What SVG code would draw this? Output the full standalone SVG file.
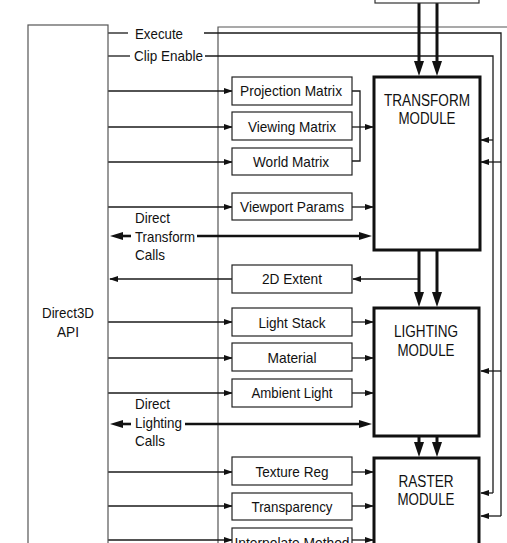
<svg xmlns="http://www.w3.org/2000/svg" width="507" height="543" viewBox="0 0 507 543">
<defs>
<style>
text{font-family:"Liberation Sans",Arial,sans-serif;fill:#111;}
.lbl{font-size:15px;text-anchor:middle;}
.side{font-size:15px;}
.mod{font-size:16px;text-anchor:middle;}
.box{fill:#fff;stroke:#222;stroke-width:1.2;}
.modbox{fill:#fff;stroke:#111;stroke-width:3;}
.thin{fill:none;stroke:#1a1a1a;stroke-width:1.3;}
.gray{fill:none;stroke:#555;stroke-width:1.2;}
.thick{fill:none;stroke:#111;stroke-width:2.6;}
.big{fill:none;stroke:#111;stroke-width:3;}
.ta{marker-end:url(#a);}
</style>
<marker id="a" markerUnits="userSpaceOnUse" markerWidth="9" markerHeight="6" refX="8" refY="3" orient="auto"><path d="M0,0 L9,3 L0,6 z" fill="#111"/></marker>
<marker id="b" markerUnits="userSpaceOnUse" markerWidth="13" markerHeight="8" refX="1" refY="4" orient="auto"><path d="M0,0 L13,4 L0,8 z" fill="#111"/></marker>
<marker id="c" markerUnits="userSpaceOnUse" markerWidth="15" markerHeight="10" refX="1" refY="5" orient="auto"><path d="M0,0 L15,5 L0,10 z" fill="#111"/></marker>
</defs>

<g id="connectors">
<!-- frame -->
<path class="gray" d="M218,543 V27 H507"/>
<!-- Execute -->
<path class="thin" d="M108,33 H128"/>
<path class="thin" d="M204,33 H501 V516"/>
<!-- Clip Enable -->
<path class="thin" d="M108,56 H130"/>
<path class="thin" d="M205,56 H493 V493"/>
<!-- feedback into modules -->
<path class="thin ta" d="M493,140 H481"/>
<path class="thin ta" d="M501,162 H481"/>
<path class="thin ta" d="M501,371 H481"/>
<path class="thin ta" d="M493,493 H481"/>
<path class="thin ta" d="M501,516 H481"/>
<!-- API to parameter boxes -->
<path class="thin ta" d="M108,91 H232"/>
<path class="thin ta" d="M108,127 H232"/>
<path class="thin ta" d="M108,162 H232"/>
<path class="thin ta" d="M108,207 H232"/>
<path class="thin ta" d="M108,322 H232"/>
<path class="thin ta" d="M108,358 H232"/>
<path class="thin ta" d="M108,393 H232"/>
<path class="thin ta" d="M108,472 H232"/>
<path class="thin ta" d="M108,506 H232"/>
<path class="thin ta" d="M108,540 H232"/>
<!-- matrix bracket -->
<path class="thin" d="M352,91 H360 V161 H352"/>
<path class="thin ta" d="M352,127 H373"/>
<path class="thin ta" d="M352,207 H373"/>
<path class="thin ta" d="M352,322 H373"/>
<path class="thin ta" d="M352,358 H373"/>
<path class="thin ta" d="M352,393 H373"/>
<path class="thin ta" d="M352,472 H373"/>
<path class="thin ta" d="M352,506 H373"/>
<path class="thin ta" d="M352,540 H373"/>
<!-- 2D extent -->
<path class="thin ta" d="M419,279 H353"/>
<path class="thin ta" d="M232,279 H110"/>
<!-- direct calls -->
<path class="thick" d="M131,236 H122" marker-end="url(#b)"/>
<path class="thick" d="M197,236 H360" marker-end="url(#b)"/>
<path class="thick" d="M131,424 H122" marker-end="url(#b)"/>
<path class="thick" d="M185,424 H360" marker-end="url(#b)"/>
<!-- module to module -->
<path class="big" d="M419,3 V62" marker-end="url(#c)"/>
<path class="big" d="M437,3 V62" marker-end="url(#c)"/>
<path class="big" d="M419,250 V293" marker-end="url(#c)"/>
<path class="big" d="M437,250 V293" marker-end="url(#c)"/>
<path class="big" d="M419,437 V443" marker-end="url(#c)"/>
<path class="big" d="M437,437 V443" marker-end="url(#c)"/>
</g>

<g id="labels">
<text class="side" x="135" y="39" textLength="48" lengthAdjust="spacingAndGlyphs">Execute</text>
<text class="side" x="134" y="61" textLength="69" lengthAdjust="spacingAndGlyphs">Clip Enable</text>
<text class="side" x="135" y="223" textLength="35" lengthAdjust="spacingAndGlyphs">Direct</text>
<text class="side" x="135" y="242" textLength="60" lengthAdjust="spacingAndGlyphs">Transform</text>
<text class="side" x="135" y="260" textLength="30" lengthAdjust="spacingAndGlyphs">Calls</text>
<text class="side" x="135" y="409" textLength="35" lengthAdjust="spacingAndGlyphs">Direct</text>
<text class="side" x="135" y="428" textLength="47" lengthAdjust="spacingAndGlyphs">Lighting</text>
<text class="side" x="135" y="446" textLength="30" lengthAdjust="spacingAndGlyphs">Calls</text>
</g>

<g id="api">
<rect x="28" y="25" width="80" height="530" fill="#fff" stroke="#555" stroke-width="1.2"/>
<text class="lbl" x="68" y="318" textLength="52" lengthAdjust="spacingAndGlyphs">Direct3D</text>
<text class="lbl" x="68" y="337" textLength="22" lengthAdjust="spacingAndGlyphs">API</text>
</g>

<g id="source">
<rect x="375" y="-5" width="104" height="8" fill="#fff" stroke="#333" stroke-width="1.2"/>
</g>

<g id="transform">
<rect class="modbox" x="374" y="77" width="106" height="173"/>
<text class="mod" x="427" y="106" textLength="86" lengthAdjust="spacingAndGlyphs">TRANSFORM</text>
<text class="mod" x="427" y="124" textLength="57" lengthAdjust="spacingAndGlyphs">MODULE</text>
</g>
<g id="lighting">
<rect class="modbox" x="374" y="308" width="105" height="128"/>
<text class="mod" x="426" y="337" textLength="64" lengthAdjust="spacingAndGlyphs">LIGHTING</text>
<text class="mod" x="426" y="356" textLength="57" lengthAdjust="spacingAndGlyphs">MODULE</text>
</g>
<g id="raster">
<rect class="modbox" x="374" y="458" width="105" height="100"/>
<text class="mod" x="426" y="487" textLength="55" lengthAdjust="spacingAndGlyphs">RASTER</text>
<text class="mod" x="426" y="505" textLength="57" lengthAdjust="spacingAndGlyphs">MODULE</text>
</g>

<g id="projection"><rect class="box" x="232" y="77" width="120" height="28"/><text class="lbl" x="291" y="96" textLength="102" lengthAdjust="spacingAndGlyphs">Projection Matrix</text></g>
<g id="viewing"><rect class="box" x="232" y="112" width="120" height="28"/><text class="lbl" x="292" y="132" textLength="88" lengthAdjust="spacingAndGlyphs">Viewing Matrix</text></g>
<g id="world"><rect class="box" x="232" y="148" width="120" height="27"/><text class="lbl" x="291" y="167" textLength="76" lengthAdjust="spacingAndGlyphs">World Matrix</text></g>
<g id="viewport"><rect class="box" x="232" y="193" width="120" height="27"/><text class="lbl" x="292" y="212" textLength="104" lengthAdjust="spacingAndGlyphs">Viewport Params</text></g>
<g id="extent"><rect class="box" x="232" y="265" width="120" height="28"/><text class="lbl" x="292" y="284" textLength="60" lengthAdjust="spacingAndGlyphs">2D Extent</text></g>
<g id="lightstack"><rect class="box" x="232" y="308" width="120" height="28"/><text class="lbl" x="292" y="328" textLength="67" lengthAdjust="spacingAndGlyphs">Light Stack</text></g>
<g id="material"><rect class="box" x="232" y="343" width="120" height="28"/><text class="lbl" x="292" y="363" textLength="49" lengthAdjust="spacingAndGlyphs">Material</text></g>
<g id="ambient"><rect class="box" x="232" y="379" width="120" height="28"/><text class="lbl" x="292" y="398" textLength="81" lengthAdjust="spacingAndGlyphs">Ambient Light</text></g>
<g id="texture"><rect class="box" x="232" y="457" width="120" height="28"/><text class="lbl" x="292" y="477" textLength="73" lengthAdjust="spacingAndGlyphs">Texture Reg</text></g>
<g id="transparency"><rect class="box" x="232" y="493" width="120" height="27"/><text class="lbl" x="292" y="512" textLength="81" lengthAdjust="spacingAndGlyphs">Transparency</text></g>
<g id="interpolate"><rect class="box" x="232" y="528" width="120" height="28"/><text class="lbl" x="292" y="548" textLength="115" lengthAdjust="spacingAndGlyphs">Interpolate Method</text></g>
</svg>
